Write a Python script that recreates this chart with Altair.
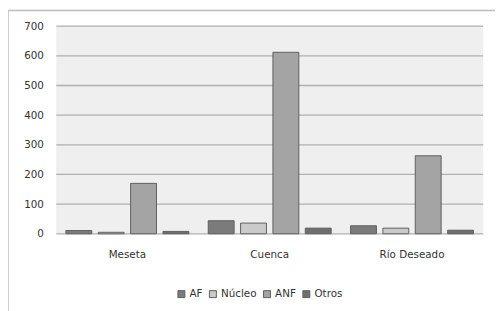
import altair as alt
import pandas as pd

regions = ["Meseta", "Cuenca", "Río Deseado"]
series = ["AF", "Núcleo", "ANF", "Otros"]
values = {
    "AF": [11, 44, 27],
    "Núcleo": [5, 36, 19],
    "ANF": [170, 612, 263],
    "Otros": [8, 19, 12],
}
colors = ["#7b7b7b", "#cacaca", "#a4a4a4", "#6e6e6e"]
y_ticks = [0, 100, 200, 300, 400, 500, 600, 700]

rows = []
for s in series:
    for r, v in zip(regions, values[s]):
        rows.append({"region": r, "serie": s, "value": v})
df = pd.DataFrame(rows)

W, H = 434, 211
FONT = "DejaVu Sans"

yscale = alt.Scale(domain=[0, 700], nice=False)
yaxis = alt.Axis(values=y_ticks, ticks=False, domain=False, grid=False,
                 labelPadding=13, labelOverlap=False,
                 labelFont=FONT, labelFontSize=10.5, labelColor="#333333")

grid = alt.Chart(pd.DataFrame({"t": y_ticks})).mark_rule(color="#b0b0b0", strokeWidth=1.3).encode(
    y=alt.Y("t:Q", scale=yscale, title=None, axis=yaxis),
    x=alt.value(0), x2=alt.value(W),
)

bars = alt.Chart(df).mark_bar(stroke="#5f5f5f", strokeWidth=1).encode(
    x=alt.X("region:N", sort=regions, title=None,
            scale=alt.Scale(paddingInner=0, paddingOuter=0),
            axis=alt.Axis(labelAngle=0, ticks=False, domain=False, grid=False, labelPadding=16,
                          labelFont=FONT, labelFontSize=10.5, labelColor="#333333")),
    xOffset=alt.XOffset("serie:N", sort=series,
                        scale=alt.Scale(paddingInner=0.2, paddingOuter=0.3)),
    y=alt.Y("value:Q", scale=yscale, title=None, axis=yaxis),
    color=alt.Color("serie:N", sort=series,
                    scale=alt.Scale(domain=series, range=colors),
                    legend=alt.Legend(title=None, orient="none", direction="horizontal",
                                      legendX=122, legendY=267, symbolType="square",
                                      symbolSize=50, symbolStrokeColor="#5f5f5f",
                                      symbolStrokeWidth=1, labelFont=FONT,
                                      labelFontSize=10.5, labelColor="#333333",
                                      columnPadding=4, labelOffset=3)),
)

top_border = alt.Chart(pd.DataFrame({"a": [0]})).mark_rule(color="#bdbdbd", strokeWidth=1.5).encode(
    x=alt.value(-49), x2=alt.value(W + 12), y=alt.value(-16)
)
left_border = alt.Chart(pd.DataFrame({"a": [0]})).mark_rule(color="#bdbdbd", strokeWidth=1.5).encode(
    x=alt.value(-49), y=alt.value(-16), y2=alt.value(300)
)

chart = alt.layer(grid, bars, top_border, left_border).properties(
    width=W, height=H,
    autosize=alt.AutoSizeParams(type="none"),
    padding={"left": 49, "top": 16, "right": 12, "bottom": 76},
    background="white",
).configure_view(fill="#efefef", stroke=None)

chart.save("out.html", embed_options={"renderer": "svg", "actions": False})
